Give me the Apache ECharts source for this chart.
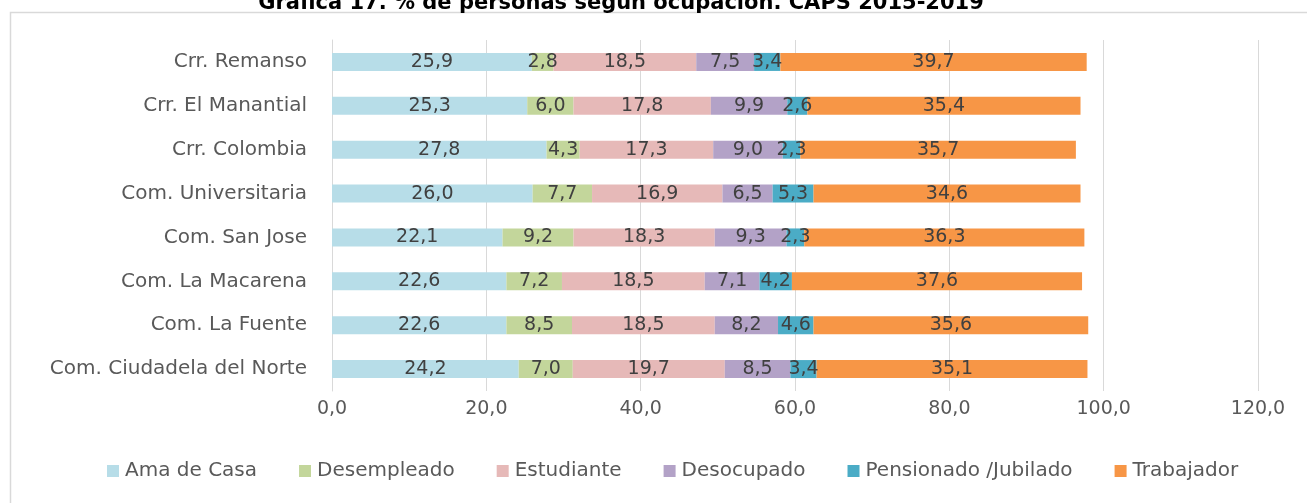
<!DOCTYPE html>
<html>
<head>
<meta charset="utf-8">
<script src="https://cdn.jsdelivr.net/npm/echarts@6/dist/echarts.min.js"></script>
<style>
  html, body { margin: 0; padding: 0; background: #fff; }
  #chart { width: 1307px; height: 503px; }
</style>
</head>
<body>
<div id="chart"></div>
<script>
// categories, bottom row first
const categories = [
    'Com. Ciudadela del Norte',
    'Com. La Fuente',
    'Com. La Macarena',
    'Com. San Jose',
    'Com. Universitaria',
    'Crr. Colombia',
    'Crr. El Manantial',
    'Crr. Remanso'
];
const amaDeCasa   = [24.2, 22.6, 22.6, 22.1, 26.0, 27.8, 25.3, 25.9];
const desempleado = [7.0, 8.5, 7.2, 9.2, 7.7, 4.3, 6.0, 2.8];
const estudiante  = [19.7, 18.5, 18.5, 18.3, 16.9, 17.3, 17.8, 18.5];
const desocupado  = [8.5, 8.2, 7.1, 9.3, 6.5, 9.0, 9.9, 7.5];
const pensionado  = [3.4, 4.6, 4.2, 2.3, 5.3, 2.3, 2.6, 3.4];
const trabajador  = [35.1, 35.6, 37.6, 36.3, 34.6, 35.7, 35.4, 39.7];

const seriesNames = ['Ama de Casa', 'Desempleado', 'Estudiante', 'Desocupado', 'Pensionado /Jubilado', 'Trabajador'];
const seriesData = [amaDeCasa, desempleado, estudiante, desocupado, pensionado, trabajador];
const colors = ['#b7dde8', '#c3d69b', '#e6b9b8', '#b3a2c7', '#4bacc6', '#f79646'];

const font = 'DejaVu Sans';
const fmt = v => v.toFixed(1).replace('.', ',');

const chart = echarts.init(document.getElementById('chart'));

const option = {
    animation: false,
    title: {
        text: 'Gráfica 17. % de personas según ocupación. CAPS 2015-2019',
        left: 616,
        textAlign: 'center',
        top: -12,
        textStyle: { fontFamily: font, fontSize: 21, fontWeight: 'bold', color: '#000' }
    },
    graphic: [{
        type: 'rect',
        shape: { x: 10.5, y: 12.5, width: 1320, height: 520 },
        style: { fill: '#fff', stroke: '#d9d9d9', lineWidth: 1.5 },
        z: -10,
        silent: true
    }],
    legend: {
        top: 456,
        left: 102,
        itemWidth: 12,
        itemHeight: 12,
        itemGap: 42,
        icon: 'rect',
        textStyle: { fontFamily: font, fontSize: 20, color: '#595959', padding: [0, 0, 0, 1] },
        data: seriesNames
    },
    grid: { left: 332, right: 49, top: 40, bottom: 112, containLabel: false },
    xAxis: {
        type: 'value',
        min: 0,
        max: 120,
        interval: 20,
        axisLine: { show: false },
        axisTick: { show: false },
        axisLabel: {
            fontFamily: font, fontSize: 19, color: '#595959', margin: 9,
            formatter: v => fmt(v)
        },
        splitLine: { lineStyle: { color: '#d9d9d9', width: 1 } }
    },
    yAxis: {
        type: 'category',
        data: categories,
        axisLine: { show: true, lineStyle: { color: '#d9d9d9' } },
        axisTick: { show: false },
        axisLabel: { fontFamily: font, fontSize: 20, color: '#595959', margin: 25 }
    },
    series: seriesNames.map((name, i) => ({
        name: name,
        type: 'bar',
        stack: 'total',
        barWidth: 18,
        data: seriesData[i],
        itemStyle: { color: colors[i] },
        label: {
            show: true,
            position: 'inside',
            fontFamily: font,
            fontSize: 19,
            color: '#404040',
            formatter: p => fmt(p.value)
        }
    }))
};

chart.setOption(option);
</script>
</body>
</html>
